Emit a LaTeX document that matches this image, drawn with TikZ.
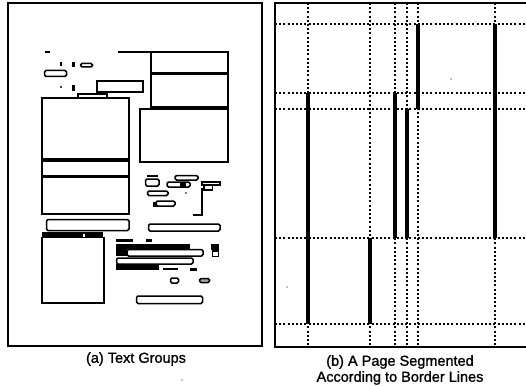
\documentclass[tikz,border=0pt]{standalone}
\usepackage{fontspec}
\setmainfont{Liberation Sans}
\newfontfamily\scanfont[FakeBold=1.2]{Liberation Sans}
\begin{document}
\begin{tikzpicture}[x=1pt, y=-1pt,
    frameline/.style={line width=2pt},
    blockbox/.style={draw, line width=1.5pt},
    roundbox/.style={draw, line width=1.5pt, rounded corners=1.5pt},
    ink/.style={fill=black},
    gridline/.style={line width=1.6pt, dash pattern=on 2pt off 2.2pt},
    borderline/.style={line width=3.2pt},
    caption/.style={font=\scanfont\fontsize{14.5}{16}\selectfont, align=center, inner sep=0pt}]
    \useasboundingbox (0,0) rectangle (526,385);

    % (a) 文本组
    \draw[frameline] (8,3) rectangle (262,346);
    \fill[ink] (45,51) rectangle (50,53.5);
    \fill[ink] (118,50.8) rectangle (152,53.3);
    \draw[blockbox] (151,52) rectangle (228,72.5);
    \draw[blockbox] (151,74) rectangle (228,107);
    \draw[blockbox] (140,109) rectangle (228,162);
    \fill[ink] (59.5,62) rectangle (61.5,66);
    \fill[ink] (72,62) rectangle (75,67);
    \draw[roundbox] (80.5,63.5) rectangle (92.5,67);
    \draw[roundbox] (44.5,70.5) rectangle (66.5,76.5);
    \fill[ink] (61,87) circle (1.1pt);
    \fill[ink] (72,85) rectangle (75,91);
    \draw[blockbox] (97,81) rectangle (143,92);
    \draw[blockbox] (78,94) rectangle (107,98);
    \draw[blockbox] (42,98) rectangle (129,159);
    \draw[blockbox] (42,161) rectangle (129,175.5);
    \draw[blockbox] (42,177) rectangle (129,214);
    \draw[roundbox] (46.5,219.5) rectangle (129,230.5);
    \fill[ink] (42,231.5) rectangle (103,237);
    \fill[white] (83,234) rectangle (84.5,237);
    \draw[blockbox] (42,237.5) rectangle (104,303);

    % 右侧小块
    \fill[ink] (147,175) rectangle (158,177);
    \draw[roundbox] (145.5,179) rectangle (159,186);
    \draw[roundbox] (175,175.5) rectangle (198,180);
    \draw[roundbox] (167,182) rectangle (190,187);
    \fill[ink] (180,182) rectangle (186,187);
    \draw[blockbox] (202,182) rectangle (220,185);
    \draw[blockbox] (204,185.5) rectangle (212.5,190);
    \draw[line width=1.8pt] (202,188) -- (202,215) -- (193,215);
    \draw[roundbox] (147.5,191) rectangle (168,195.5);
    \fill[ink] (186,193) circle (0.9pt);
    \draw[roundbox] (156,201) rectangle (175,206);
    \fill[ink] (153,202) rectangle (157,207);
    \draw[roundbox] (148.5,224) rectangle (220,231);

    % 文本行
    \fill[ink] (116,239) rectangle (133,242);
    \fill[ink] (146,239) rectangle (152,242);
    \fill[ink] (116,244) rectangle (190,249);
    \fill[ink] (116,244) rectangle (127,256);
    \draw[roundbox] (127,249.5) rectangle (203,256);
    \fill[ink] (211,244) rectangle (219,249.5);
    \draw[blockbox] (212.5,251) rectangle (218.5,256.5);
    \draw[roundbox] (116.5,258) rectangle (193,264);
    \fill[ink] (116,264) rectangle (159,269.5);
    \fill[ink] (163,267.5) rectangle (178,270);
    \fill[ink] (190,267.5) rectangle (197,270.5);
    \draw[roundbox] (170.5,278) rectangle (178.5,283);
    \draw[roundbox, fill=black!35] (199.5,278.5) rectangle (209.5,282.5);
    \draw[roundbox] (136.5,296) rectangle (202.5,303.5);

    % (b) 分割线
    \draw[frameline] (526,3) -- (275,3) -- (275,347) -- (526,347);
    \foreach \gx in {308,370,395,407,418,495}
        \draw[gridline] (\gx,3) -- (\gx,347);
    \foreach \gy in {24,93,109,238,324}
        \draw[gridline] (275,\gy) -- (526,\gy);
    \draw[borderline] (308,93) -- (308,324);
    \draw[borderline] (370,238) -- (370,324);
    \draw[borderline] (395,93) -- (395,238);
    \draw[borderline] (407,109) -- (407,238);
    \draw[borderline] (418,24) -- (418,109);
    \draw[borderline] (495,24) -- (495,238);
    \fill[ink] (451,79) circle (0.7pt);
    \fill[ink] (287,287) circle (0.7pt);
    \fill[ink] (182,380) circle (0.7pt);

    % 图注
    \node[caption] (capa) at (136,359) {(a) Text Groups};
    \node[caption] (capb) at (400,370) {(b) A Page Segmented\\According to Border Lines};
\end{tikzpicture}
\end{document}
